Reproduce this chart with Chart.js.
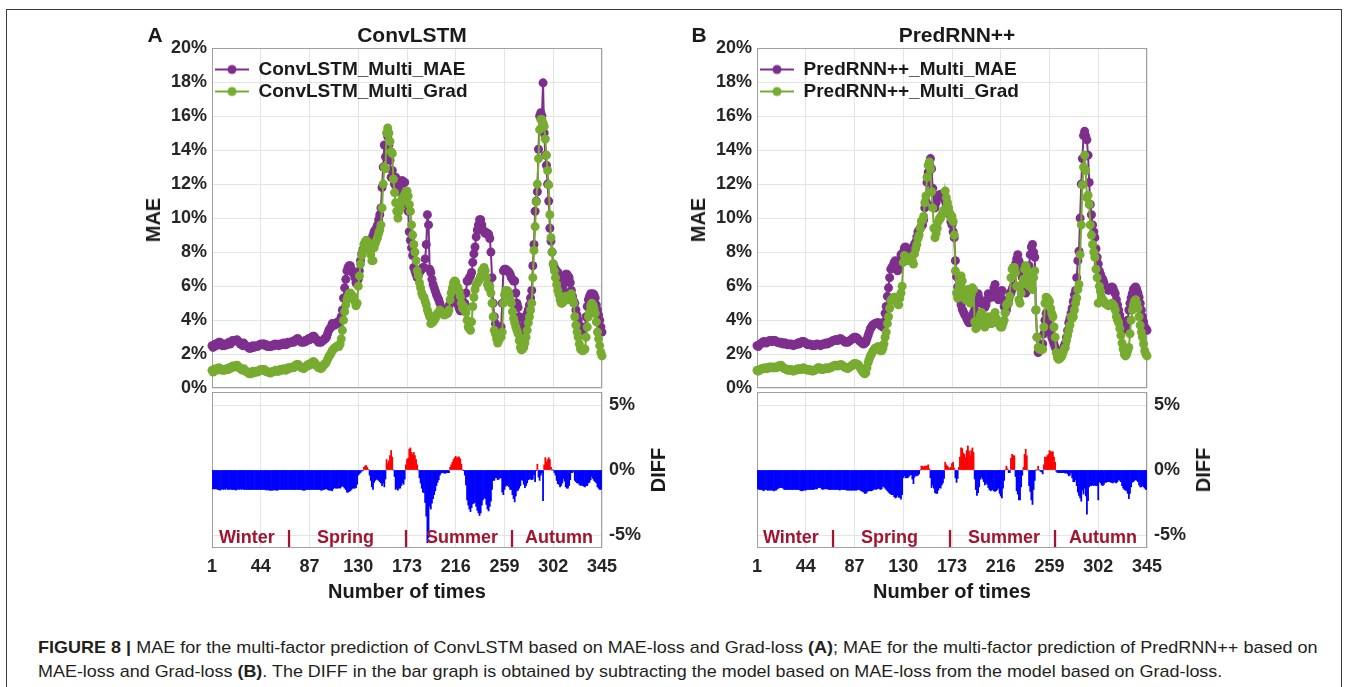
<!DOCTYPE html>
<html><head><meta charset="utf-8">
<script src="https://cdn.jsdelivr.net/npm/chart.js@4.4.1/dist/chart.umd.min.js"></script>
<style>
html,body{margin:0;padding:0;background:#fff;}
body{width:1358px;height:687px;position:relative;overflow:hidden;font-family:"Liberation Sans",Arial,sans-serif;}
canvas{position:absolute;}
.lbl{position:absolute;font-weight:bold;color:#1a1a1a;white-space:nowrap;transform:translate(-50%,-50%);line-height:1;}
.rot{transform:translate(-50%,-50%) rotate(-90deg);}
.season{position:absolute;font-weight:bold;color:#A2142F;font-size:18px;white-space:nowrap;transform:translateY(-50%);line-height:1;}
.sep{position:absolute;font-weight:bold;color:#A2142F;font-size:18px;transform:translate(-50%,-50%);line-height:1;}
#frame{position:absolute;left:6px;top:9px;width:1334px;height:720px;border:1px solid #3a3a3a;}
.cap{position:absolute;left:38px;font-size:17px;line-height:20px;color:#231f20;white-space:nowrap;transform-origin:0 50%;}
</style></head><body>
<div id="frame"></div>

<canvas id="topA" width="490" height="376" style="left:130px;top:28px;"></canvas>
<canvas id="botA" width="532" height="221" style="left:130px;top:372px;"></canvas>
<canvas id="topB" width="490" height="376" style="left:675px;top:28px;"></canvas>
<canvas id="botB" width="532" height="221" style="left:675px;top:372px;"></canvas>

<div class="lbl" style="left:155px;top:34px;font-size:21px;">A</div>
<div class="lbl" style="left:412px;top:34px;font-size:21px;">ConvLSTM</div>
<div class="lbl rot" style="left:153px;top:220px;font-size:20px;">MAE</div>
<div class="lbl rot" style="left:658px;top:470px;font-size:20px;">DIFF</div>
<div class="lbl" style="left:407px;top:591px;font-size:20px;">Number of times</div>
<div class="season" style="left:219px;top:537px;">Winter</div>
<div class="sep" style="left:289px;top:537px;">|</div>
<div class="season" style="left:317px;top:537px;">Spring</div>
<div class="sep" style="left:406px;top:537px;">|</div>
<div class="season" style="left:426px;top:537px;">Summer</div>
<div class="sep" style="left:512px;top:537px;">|</div>
<div class="season" style="left:525px;top:537px;">Autumn</div>

<div class="lbl" style="left:699px;top:34px;font-size:21px;">B</div>
<div class="lbl" style="left:957px;top:34px;font-size:21px;">PredRNN++</div>
<div class="lbl rot" style="left:698px;top:220px;font-size:20px;">MAE</div>
<div class="lbl rot" style="left:1203px;top:470px;font-size:20px;">DIFF</div>
<div class="lbl" style="left:952px;top:591px;font-size:20px;">Number of times</div>
<div class="season" style="left:763px;top:537px;">Winter</div>
<div class="sep" style="left:833px;top:537px;">|</div>
<div class="season" style="left:861px;top:537px;">Spring</div>
<div class="sep" style="left:950px;top:537px;">|</div>
<div class="season" style="left:968px;top:537px;">Summer</div>
<div class="sep" style="left:1055px;top:537px;">|</div>
<div class="season" style="left:1069px;top:537px;">Autumn</div>

<div class="cap" id="cap1" data-w="1280" style="top:638px;"><b>FIGURE 8 |</b> MAE for the multi-factor prediction of ConvLSTM based on MAE-loss and Grad-loss <b>(A)</b>; MAE for the multi-factor prediction of PredRNN++ based on</div>
<div class="cap" id="cap2" data-w="1184" style="top:662px;">MAE-loss and Grad-loss <b>(B)</b>. The DIFF in the bar graph is obtained by subtracting the model based on MAE-loss from the model based on Grad-loss.</div>

<script>
// ---------------- data (values in %) ----------------
const xTicks = [1, 44, 87, 130, 173, 216, 259, 302, 345];
const maeTicks = [0, 2, 4, 6, 8, 10, 12, 14, 16, 18, 20];
const diffTicks = [-5, 0, 5];
const seriesNamesA = ['ConvLSTM_Multi_MAE', 'ConvLSTM_Multi_Grad'];
const seriesNamesB = ['PredRNN++_Multi_MAE', 'PredRNN++_Multi_Grad'];

const convMae = [
2.5,2.4,2.5,2.6,2.5,2.6,2.7,2.7,2.6,2.5,
2.6,2.5,2.6,2.55,2.6,2.7,2.6,2.7,2.8,2.75,
2.8,2.8,2.85,2.75,2.7,2.6,2.6,2.5,2.65,2.55,
2.5,2.45,2.4,2.35,2.35,2.4,2.5,2.4,2.45,2.5,
2.45,2.5,2.55,2.6,2.55,2.6,2.6,2.5,2.55,2.45,
2.5,2.45,2.45,2.5,2.55,2.5,2.6,2.55,2.55,2.5,
2.6,2.55,2.6,2.65,2.6,2.55,2.6,2.7,2.65,2.7,
2.7,2.75,2.7,2.8,2.85,2.9,2.9,2.8,2.75,2.7,
2.75,2.7,2.8,2.75,2.85,2.9,2.85,2.95,3.0,3.05,
3.05,2.95,2.85,2.8,2.7,2.75,2.7,2.75,2.8,2.9,
2.9,3.0,3.2,3.4,3.5,3.6,3.8,3.75,3.7,3.8,
3.85,3.9,3.8,4.0,4.2,4.6,5.3,5.9,6.4,6.9,
7.1,7.2,7.2,7.0,6.8,6.75,6.5,6.2,6.1,6.4,
6.9,7.5,7.9,8.1,8.25,8.3,8.35,8.4,8.5,8.6,
8.65,8.8,9.0,9.2,9.3,9.4,9.6,9.9,10.2,10.6,
11.8,13.0,14.3,13.6,14.2,14.8,14.3,13.4,12.4,12.8,
12.3,12.0,12.4,11.8,11.55,11.8,12.0,12.2,12.2,12.1,
12.1,11.15,10.8,10.4,9.2,8.7,8.25,7.8,7.1,6.9,
6.7,6.5,6.6,6.8,6.9,7.0,7.1,7.1,7.6,8.45,
10.2,9.6,7.0,6.8,6.4,6.1,5.9,5.7,5.5,5.35,
5.2,5.0,4.75,4.6,4.55,4.55,4.6,4.6,4.6,4.8,
5.0,5.2,5.3,5.4,5.35,5.2,5.1,4.9,4.7,4.55,
4.55,4.7,4.85,5.0,5.6,6.3,6.3,6.5,6.6,6.8,
7.4,7.9,8.3,8.9,9.3,9.6,9.9,9.9,9.6,9.3,
9.2,9.1,9.15,9.1,9.05,8.8,8.0,6.5,5.0,4.2,
3.8,3.5,3.4,3.5,3.6,3.6,5.0,6.9,7.0,7.0,
6.9,6.9,6.8,6.7,6.5,6.4,6.3,6.3,5.6,5.0,
4.75,4.2,3.6,3.0,3.1,3.5,4.0,4.2,4.4,4.6,
4.9,5.3,5.75,7.2,8.45,10.4,11.0,11.55,14.05,16.0,
16.2,16.0,17.95,15.0,13.7,13.1,12.0,11.0,9.4,8.65,
8.0,7.3,7.1,6.9,6.9,6.8,6.6,6.5,6.2,6.0,
5.75,6.2,6.7,6.7,6.6,6.5,6.2,5.75,5.4,5.1,
5.0,4.6,4.3,4.0,3.7,3.5,3.4,3.4,3.5,3.6,
4.2,4.8,5.2,5.4,5.55,5.5,5.55,5.5,5.3,4.9,
4.6,4.3,4.0,3.6,3.3];

const convGrad = [
1.05,0.95,1.05,1.15,1.05,1.1,1.2,1.15,1.1,1.05,
1.1,1.05,1.1,1.15,1.1,1.2,1.15,1.2,1.3,1.25,
1.3,1.25,1.35,1.3,1.2,1.15,1.1,1.05,1.15,1.05,
1.0,0.95,0.9,0.85,0.85,0.9,1.0,0.9,0.95,1.0,
0.95,1.0,1.05,1.1,1.05,1.1,1.1,1.0,1.0,0.95,
0.95,0.9,0.9,0.95,1.0,1.0,1.05,1.0,1.0,1.0,
1.1,1.05,1.1,1.15,1.1,1.05,1.1,1.2,1.15,1.2,
1.2,1.25,1.2,1.3,1.35,1.4,1.4,1.3,1.25,1.2,
1.2,1.15,1.25,1.25,1.35,1.4,1.35,1.45,1.5,1.55,
1.55,1.45,1.35,1.3,1.2,1.25,1.15,1.2,1.3,1.4,
1.45,1.55,1.7,1.85,1.95,2.05,2.2,2.3,2.35,2.4,
2.45,2.5,2.45,2.6,2.9,3.4,4.0,4.5,4.9,5.2,
5.4,5.55,5.6,5.5,5.4,5.35,5.1,4.85,5.0,6.0,
6.6,7.3,7.8,8.05,8.45,8.6,8.7,8.6,8.55,8.2,
7.85,7.5,7.5,8.25,8.5,8.7,8.85,9.1,9.3,9.6,
10.6,12.0,13.0,12.9,15.0,15.3,15.0,14.5,13.9,13.8,
12.3,11.5,10.9,10.4,10.0,10.4,10.6,11.0,11.2,11.0,
11.4,11.55,11.6,11.3,10.8,10.4,9.6,9.0,8.45,8.0,
7.5,6.9,6.6,6.2,5.9,5.6,5.4,5.35,5.1,4.9,
4.6,4.4,4.2,3.8,3.85,3.9,4.0,4.1,4.3,4.4,
4.45,4.6,4.5,4.4,4.35,4.3,4.35,4.4,4.4,4.6,
5.2,5.6,5.9,6.2,6.3,6.25,6.0,5.9,5.7,5.4,
5.0,4.7,4.8,4.6,4.45,4.0,3.6,3.5,3.4,3.9,
4.8,5.35,5.8,6.1,6.2,6.3,6.4,6.6,6.9,7.0,
7.1,6.9,6.5,6.1,5.9,6.0,5.6,5.0,4.2,3.4,
3.2,2.9,2.65,2.8,3.0,3.0,3.3,5.0,5.5,5.75,
5.75,5.7,5.5,5.2,5.0,4.5,4.1,3.85,3.6,3.4,
3.2,2.8,2.4,2.25,2.3,2.4,2.65,3.0,3.4,3.85,
4.2,4.6,5.0,6.5,8.1,9.5,10.95,12.0,13.5,15.2,
15.8,15.8,15.6,15.4,14.65,13.7,12.8,11.95,10.2,8.85,
8.0,7.3,6.9,6.5,6.1,5.75,5.5,5.2,5.0,5.0,
5.1,5.35,5.4,5.3,5.2,5.3,5.45,5.55,5.2,5.0,
4.2,3.7,3.3,3.0,2.6,2.3,2.25,2.2,2.25,2.3,
3.0,3.6,4.2,4.45,4.8,5.0,4.9,4.7,4.4,3.9,
3.3,2.9,2.5,2.1,1.9];

const predMae = [
2.5,2.45,2.55,2.6,2.65,2.7,2.75,2.7,2.65,2.7,
2.75,2.8,2.75,2.8,2.75,2.8,2.8,2.75,2.7,2.7,
2.65,2.7,2.65,2.6,2.65,2.65,2.6,2.55,2.6,2.55,
2.6,2.55,2.5,2.55,2.55,2.6,2.65,2.6,2.7,2.7,
2.75,2.75,2.7,2.65,2.6,2.55,2.6,2.55,2.55,2.5,
2.55,2.5,2.55,2.6,2.55,2.55,2.5,2.55,2.6,2.6,
2.6,2.65,2.6,2.65,2.7,2.7,2.75,2.8,2.8,2.85,
2.85,2.8,2.85,2.9,2.9,2.85,2.8,2.75,2.7,2.75,
2.7,2.75,2.8,2.85,2.9,2.95,3.0,3.0,2.95,2.9,
2.8,2.75,2.7,2.65,2.6,2.65,2.7,2.9,3.1,3.3,
3.5,3.6,3.7,3.75,3.8,3.8,3.85,3.85,3.75,3.7,
3.65,3.6,3.9,4.4,4.8,5.4,5.9,6.5,7.0,7.1,
7.2,7.4,7.5,7.2,6.9,7.0,7.4,7.85,7.9,8.0,
8.25,8.3,8.2,8.1,8.05,8.0,8.05,8.2,8.35,8.45,
8.6,8.9,9.2,9.3,9.4,9.5,9.6,9.9,10.6,11.0,
12.1,12.7,13.2,13.5,12.9,11.75,10.8,10.6,10.9,11.2,
11.35,11.35,11.4,11.35,11.3,11.15,11.0,10.8,10.6,10.4,
10.2,9.8,9.6,9.2,8.85,7.5,6.55,5.95,5.6,5.2,
4.9,4.65,4.5,4.35,4.25,4.1,3.95,3.85,3.9,4.0,
4.2,4.45,4.6,5.0,5.55,5.55,5.3,5.0,5.0,5.0,
4.9,4.75,4.9,5.2,5.55,5.5,5.4,5.35,5.6,5.9,
6.1,5.7,5.4,5.2,5.5,5.6,5.75,5.2,4.8,4.45,
4.6,4.9,5.2,5.6,5.6,5.8,6.0,6.0,7.3,7.6,
7.85,7.5,7.3,6.9,6.5,6.2,5.8,5.6,5.9,6.6,
7.2,7.85,8.3,8.45,8.0,7.7,4.6,3.0,2.1,2.3,
2.4,2.4,2.6,3.2,4.0,4.4,4.2,4.0,3.6,3.3,
3.0,2.8,2.6,2.4,2.2,2.0,1.9,1.95,2.0,2.1,
2.3,2.5,2.65,3.0,3.4,3.85,4.1,4.4,4.7,5.1,
5.5,5.75,6.5,7.5,8.05,10.0,12.0,13.5,14.85,15.1,
14.8,14.6,13.7,12.1,10.8,10.2,9.6,9.2,8.85,8.2,
7.7,7.3,6.9,6.7,6.5,6.4,6.2,5.95,5.9,5.8,
5.75,5.8,5.9,5.95,5.9,5.7,5.55,5.2,4.9,4.6,
4.3,4.0,3.85,3.7,3.5,3.45,3.6,4.0,4.6,5.0,
5.3,5.55,5.8,5.9,5.95,5.8,5.6,5.35,5.0,4.6,
4.2,3.9,3.6,3.5,3.4];

const predGrad = [
1.05,1.0,1.05,1.1,1.15,1.15,1.15,1.2,1.15,1.15,
1.2,1.25,1.2,1.25,1.2,1.2,1.25,1.2,1.25,1.3,
1.3,1.35,1.3,1.2,1.15,1.15,1.1,1.05,1.1,1.05,
1.1,1.05,1.0,1.05,1.05,1.1,1.15,1.1,1.15,1.1,
1.15,1.2,1.15,1.1,1.1,1.05,1.1,1.05,1.05,1.0,
1.05,1.05,1.1,1.15,1.2,1.2,1.15,1.1,1.1,1.15,
1.15,1.2,1.15,1.15,1.2,1.2,1.25,1.3,1.3,1.35,
1.35,1.3,1.35,1.35,1.4,1.35,1.3,1.25,1.2,1.2,
1.15,1.2,1.25,1.3,1.35,1.4,1.45,1.45,1.4,1.4,
1.3,1.2,1.1,1.0,0.9,0.85,0.9,1.2,1.5,1.7,
1.9,2.0,2.15,2.25,2.35,2.3,2.4,2.45,2.3,2.2,
2.2,2.35,2.6,3.0,3.3,3.8,4.2,4.7,5.15,5.2,
5.3,5.35,5.35,5.1,4.95,4.9,5.3,5.6,6.0,7.4,
7.8,7.7,7.6,7.5,7.55,7.6,7.7,7.5,7.3,7.9,
8.2,8.45,8.8,9.0,9.4,9.8,9.9,10.1,10.9,11.3,
12.4,13.1,13.3,12.9,11.55,10.6,9.4,8.85,9.1,9.4,
9.8,10.0,10.0,10.2,10.3,10.5,11.6,11.2,10.9,10.6,
10.3,10.0,10.1,9.8,9.0,6.9,5.6,5.3,5.8,6.2,
6.6,6.3,5.8,5.55,5.2,5.6,5.8,5.3,5.0,5.5,
5.9,5.8,3.9,3.5,3.6,3.8,4.0,4.3,4.45,4.3,
4.0,3.6,3.9,4.1,4.2,4.0,3.8,3.8,4.1,4.3,
4.45,4.1,3.9,3.8,3.7,3.6,3.6,3.8,4.0,4.45,
4.9,5.0,5.0,5.4,6.5,7.0,7.1,7.1,6.8,6.0,
6.0,5.2,5.0,5.6,6.1,6.4,7.0,7.2,7.0,6.6,
6.0,6.2,6.0,5.8,6.5,6.9,4.6,3.0,2.4,2.3,
2.3,2.25,2.3,3.6,5.0,5.35,5.3,5.2,5.1,4.7,
4.4,4.2,3.6,3.0,2.1,1.8,1.7,1.75,1.8,1.9,
2.1,2.3,2.4,2.8,3.1,3.4,3.7,4.2,4.1,4.2,
4.6,5.0,5.3,5.8,6.1,7.85,9.6,11.95,13.0,13.7,
12.8,11.2,11.35,10.8,9.6,9.0,8.45,8.0,7.7,7.0,
6.5,5.0,6.0,5.7,5.35,5.2,5.1,5.0,4.95,4.9,
4.85,4.9,4.95,5.0,4.9,4.8,4.6,4.2,4.0,3.85,
3.5,3.1,2.65,2.3,2.0,1.9,2.0,2.2,2.4,3.2,
4.0,4.6,4.9,5.1,5.2,5.0,4.7,4.2,3.7,3.3,
3.0,2.6,2.2,2.0,1.9];

// ---------------- chart setup ----------------
[['convMae',convMae],['convGrad',convGrad],['predMae',predMae],['predGrad',predGrad]].forEach(([n,a])=>{
  if (a.length !== 345) throw new Error(n + ' has ' + a.length + ' values');
});
const times = convMae.map((_, i) => i + 1);
// DIFF = Grad-loss model minus MAE-loss model (as stated in the caption)
const diffOf = (grad, mae) => grad.map((g, i) => +(g - mae[i]).toFixed(2));

const FONT = '"Liberation Sans", Arial, sans-serif';
const PURPLE = '#7E2F8E', GREEN = '#77AC30', RED = '#FF0000', BLUE = '#0000FF';
const GRID = '#e4e4e4', TXT = '#262626';
Chart.defaults.font.family = FONT;

const boxPlugin = {
  id: 'axisBox',
  beforeDatasetsDraw(chart) {
    const {ctx, chartArea: a} = chart;
    ctx.save();
    ctx.strokeStyle = '#a0a0a0';
    ctx.lineWidth = 1;
    ctx.strokeRect(Math.round(a.left) + 0.5, Math.round(a.top) + 0.5,
                   Math.round(a.right - a.left) - 1, Math.round(a.bottom - a.top) - 1);
    ctx.restore();
  }
};

function swatch(color) {
  const c = document.createElement('canvas');
  c.width = 34; c.height = 12;
  const g = c.getContext('2d');
  g.strokeStyle = color; g.lineWidth = 2;
  g.beginPath(); g.moveTo(0, 6); g.lineTo(34, 6); g.stroke();
  g.fillStyle = color;
  g.beginPath(); g.arc(17, 6, 4.5, 0, Math.PI * 2); g.fill();
  return c;
}
const swatches = [swatch(PURPLE), swatch(GREEN)];
const tickFont = {size: 18, weight: 'bold', family: FONT};

function lineSet(label, values, color, order) {
  return {
    label, data: values.map((v, i) => ({x: times[i], y: v})),
    borderColor: color, backgroundColor: color, pointBackgroundColor: color,
    pointRadius: 4.5, pointBorderWidth: 0, borderWidth: 2, order, clip: 8
  };
}

function topChart(id, mae, grad, names) {
  return new Chart(document.getElementById(id), {
    type: 'line',
    data: {datasets: [lineSet(names[0], mae, PURPLE, 2), lineSet(names[1], grad, GREEN, 1)]},
    options: {
      responsive: false, animation: false, events: [],
      layout: {padding: {left: 0, right: 18, top: 20, bottom: 12}},
      scales: {
        x: {type: 'linear', min: 1, max: 345,
            afterBuildTicks: s => { s.ticks = xTicks.map(v => ({value: v})); },
            ticks: {display: false}, grid: {color: GRID, drawTicks: false}, border: {display: false},
            afterFit: s => { s.height = 0; }},
        y: {type: 'linear', min: 0, max: 20,
            afterBuildTicks: s => { s.ticks = maeTicks.map(v => ({value: v})); },
            ticks: {callback: v => v + '%', font: tickFont, color: TXT, padding: 5},
            grid: {color: GRID, drawTicks: false}, border: {display: false},
            afterFit: s => { s.width = 82; }}
      },
      plugins: {
        tooltip: {enabled: false},
        legend: {
          position: 'chartArea', align: 'start',
          title: {display: true, text: '', font: {size: 29, lineHeight: 1}, padding: 0},
          labels: {
            usePointStyle: true, pointStyleWidth: 34, boxHeight: 10, padding: 3,
            font: {size: 19, weight: 'bold', family: FONT}, color: '#1a1a1a',
            sort: (a, b) => a.datasetIndex - b.datasetIndex,
            generateLabels: chart => Chart.defaults.plugins.legend.labels.generateLabels(chart)
              .map(it => Object.assign(it, {pointStyle: swatches[it.datasetIndex]}))
          }
        }
      }
    },
    plugins: [boxPlugin]
  });
}

function bottomChart(id, diff) {
  return new Chart(document.getElementById(id), {
    type: 'bar',
    data: {datasets: [{
      data: diff.map((v, i) => ({x: times[i], y: v})),
      backgroundColor: c => (c.raw && c.raw.y > 0) ? RED : BLUE,
      barPercentage: 1, categoryPercentage: 1, borderWidth: 0, grouped: false
    }]},
    options: {
      responsive: false, animation: false, events: [],
      layout: {padding: {left: 82, right: 0, top: 20, bottom: 0}},
      scales: {
        x: {type: 'linear', min: 1, max: 345, offset: false,
            afterBuildTicks: s => { s.ticks = xTicks.map(v => ({value: v})); },
            ticks: {font: tickFont, color: TXT, padding: 8, maxRotation: 0, autoSkip: false},
            grid: {color: GRID, drawTicks: false, offset: false}, border: {display: false},
            afterFit: s => { s.height = 45; }},
        y: {type: 'linear', position: 'right', min: -6, max: 6,
            afterBuildTicks: s => { s.ticks = diffTicks.map(v => ({value: v})); },
            ticks: {callback: v => v + '%', font: tickFont, color: TXT, padding: 7},
            grid: {color: GRID, drawTicks: false}, border: {display: false},
            afterFit: s => { s.width = 60; }}
      },
      plugins: {legend: {display: false}, tooltip: {enabled: false}}
    },
    plugins: [boxPlugin]
  });
}

topChart('topA', convMae, convGrad, seriesNamesA);
bottomChart('botA', diffOf(convGrad, convMae));
topChart('topB', predMae, predGrad, seriesNamesB);
bottomChart('botB', diffOf(predGrad, predMae));

// fit caption lines to the reference widths
document.querySelectorAll('.cap').forEach(el => {
  const w = el.scrollWidth, target = +el.dataset.w;
  el.style.transform = 'scaleX(' + (target / w).toFixed(4) + ')';
});
</script>
</body></html>
